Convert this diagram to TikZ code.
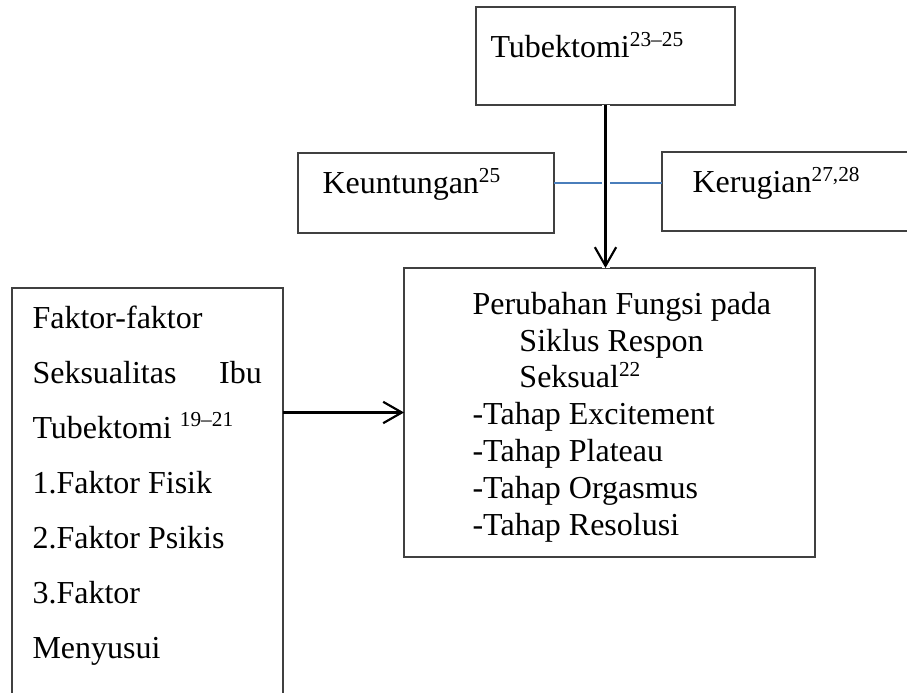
\documentclass[tikz,border=0pt]{standalone}
\usepackage{fontspec}
\setmainfont{Liberation Serif}
\usetikzlibrary{arrows.meta, calc, positioning}
\definecolor{wordblue}{HTML}{4A7EBB}
\definecolor{boxgray}{HTML}{404040}
\tikzset{
  box/.style={draw=boxgray, line width=0.45pt, anchor=north west, inner sep=0pt, outer sep=0pt},
  txt/.style={anchor=base west, inner sep=0pt, align=left, font=\fontsize{12}{13.8}\selectfont},
  pto/.style={-{Straight Barb[length=7pt,width=8pt]}, line width=0.8pt, black},
  blueline/.style={wordblue, line width=0.5pt}
}

\begin{document}
\begin{tikzpicture}[x=0.375pt,y=-0.375pt]
  \def\pxu{0.375pt}
  \useasboundingbox (0,0) rectangle (907,693);

  % boxes
  \node[box, minimum width=259*\pxu, minimum height=98*\pxu] (tube) at (476,7) {};
  \node[box, minimum width=256*\pxu, minimum height=80*\pxu] (untung) at (298,153) {};
  \node[box, minimum width=260*\pxu, minimum height=79*\pxu] (rugi) at (662,152) {};
  \node[box, minimum width=411*\pxu, minimum height=289*\pxu] (ubah) at (404,268) {};
  \node[box, minimum width=271*\pxu, minimum height=420*\pxu] (faktor) at (12,288) {};

  % texts (multi-line ones sit on their last line)
  \node[txt] (tubetxt) at ($(tube.north west)+(14,51)$) {Tubektomi\textsuperscript{23--25}};
  \node[txt] (untungtxt) at ($(untung.north west)+(24,41)$) {Keuntungan\textsuperscript{25}};
  \node[txt] (rugitxt) at ($(rugi.north west)+(30,41)$) {Kerugian\textsuperscript{27,28}};
  \node[txt] (ubahtxt) at ($(ubah.north west)+(68,267)$) {Perubahan Fungsi pada\\
    \hspace*{17.6pt}Siklus Respon\\
    \hspace*{17.6pt}Seksual\textsuperscript{22}\\
    -Tahap Excitement\\
    -Tahap Plateau\\
    -Tahap Orgasmus\\
    -Tahap Resolusi};
  \node[txt, font=\fontsize{12}{20.6}\selectfont] (faktortxt) at ($(faktor.north west)+(20,370)$) {Faktor-faktor\\
    \makebox[86pt][s]{Seksualitas\hfill Ibu}\\
    Tubektomi \textsuperscript{19--21}\\
    1.Faktor Fisik\\
    2.Faktor Psikis\\
    3.Faktor\\
    Menyusui};

  % connectors
  \draw[blueline] (untung.east |- 0,183) -- (rugi.west |- 0,183);
  \draw[white, line width=3pt] (tube.south) -- (tube.south |- ubah.north);
  \draw[pto] (tube.south) -- (tube.south |- ubah.north);
  \draw[pto] (faktor.east |- ubah.west) -- (ubah.west);
\end{tikzpicture}
\end{document}
